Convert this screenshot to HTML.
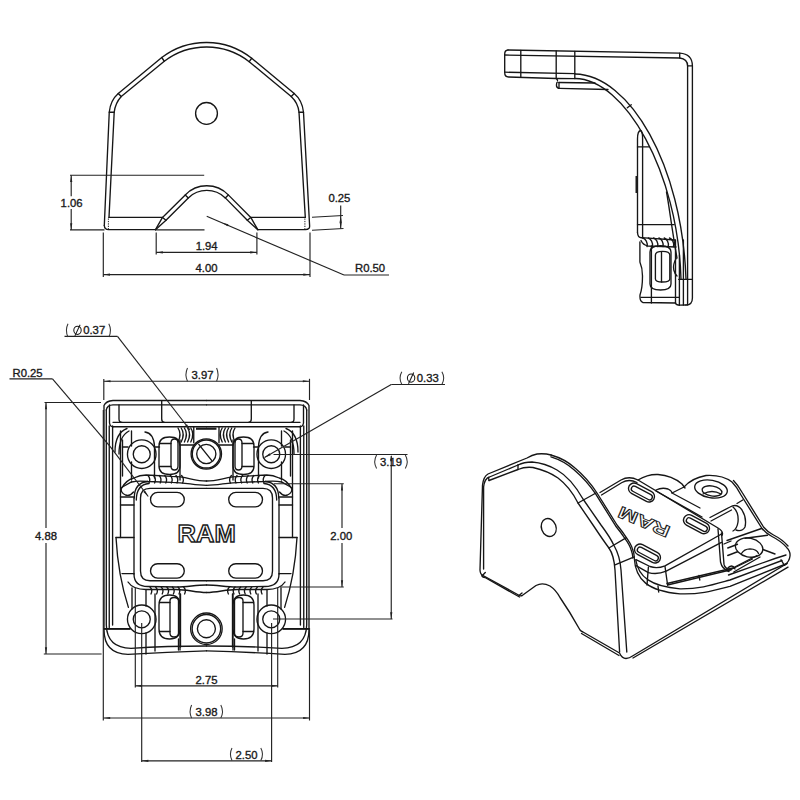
<!DOCTYPE html>
<html><head><meta charset="utf-8"><style>
html,body{margin:0;padding:0;background:#fff;}
svg{display:block;}
.p{fill:none;stroke:#161616;stroke-width:1.35;stroke-linejoin:round;stroke-linecap:round;}
.d{fill:none;stroke:#222;stroke-width:1.15;}
.t{fill:none;stroke:#1c1c1c;stroke-width:2.2;}
.a{fill:#222;stroke:none;}
.dt{fill:none;stroke:#222;stroke-width:1;stroke-dasharray:1.3,1.1;}
text{font-family:"Liberation Sans",sans-serif;fill:#1a1a1a;stroke:#1a1a1a;stroke-width:0.35;}
.pr{fill:none;stroke:#333;stroke-width:1.05;}
.dm{fill:none;stroke:#1a1a1a;stroke-width:1.05;}
text.ram{font-weight:bold;fill:#fff;stroke:#1c1c1c;stroke-width:1.5;}
</style></head>
<body><svg width="800" height="800" viewBox="0 0 800 800">
<rect width="800" height="800" fill="#fff"/>
<path class="p" d="M104.3,225.5 L109.25,112.25 Q110.3,100.5 118.25,93.5 L161.75,57.5 A73.4,73.4 0 0 1 251.75,58.25 L294.2,93.5 Q302.4,100.5 303.5,112.25 L309.6,225.5 Q310,229.6 305.5,229.6 L258.3,229.6"/>
<path class="p" d="M104.3,225.5 Q104.5,229.6 108.5,229.6 L155.5,229.6"/>
<path class="p" d="M109,217.4 L114.2,112.25 Q115.3,103 121.25,96.5 L164.3,61.25 A69.5,69.5 0 0 1 249.2,61.7 L291.2,96.5 Q298.1,103 299,112.25 L305.3,217.4"/>
<line class="p" x1="109" y1="217.4" x2="162.5" y2="217.4"/>
<line class="p" x1="250.8" y1="217.4" x2="305.3" y2="217.4"/>
<path class="dt" d="M108.4,218.5 L108.4,229"/>
<path class="dt" d="M304.9,218.5 L304.9,229"/>
<line class="p" x1="161.75" y1="57.5" x2="164.3" y2="61.25"/>
<line class="p" x1="118.25" y1="93.5" x2="121.25" y2="96.5"/>
<line class="p" x1="109.25" y1="112.25" x2="114.2" y2="112.25"/>
<line class="p" x1="251.75" y1="58.25" x2="249.2" y2="61.7"/>
<line class="p" x1="294.2" y1="93.5" x2="291.2" y2="96.5"/>
<line class="p" x1="303.5" y1="112.25" x2="299" y2="112.25"/>
<path class="p" d="M155.5,229.7 L162.5,217.45 L185.25,194.9 A30,30 0 0 1 228.3,194.9 L250.8,217.45 L257.8,229.7"/>
<path class="p" d="M155.5,229.7 L166,220.25 L188.3,197.9 A26.6,26.6 0 0 1 225.3,197.9 L247.3,220.25 L257.8,229.7"/>
<line class="p" x1="162.5" y1="217.45" x2="166" y2="220.25"/>
<line class="p" x1="185.25" y1="194.9" x2="188.3" y2="197.9"/>
<line class="p" x1="250.8" y1="217.45" x2="247.3" y2="220.25"/>
<line class="p" x1="228.3" y1="194.9" x2="225.3" y2="197.9"/>
<circle class="p" cx="206.5" cy="113.4" r="10.9"/>
<line class="d" x1="70" y1="175.2" x2="204.2" y2="175.2"/>
<line class="d" x1="70" y1="229.9" x2="104.5" y2="229.9"/>
<line class="d" x1="155.5" y1="229.9" x2="204.5" y2="229.9"/>
<line class="d" x1="71.2" y1="175.2" x2="71.2" y2="196.3"/>
<line class="d" x1="71.2" y1="209" x2="71.2" y2="229.9"/>
<polygon class="a" points="71.20,175.40 72.30,181.90 70.10,181.90"/>
<polygon class="a" points="71.20,229.70 70.10,223.20 72.30,223.20"/>
<text x="71.6" y="207.1" text-anchor="middle" font-size="11.3" >1.06</text>
<line class="d" x1="312" y1="217.3" x2="343" y2="215.5"/>
<line class="d" x1="312" y1="230.2" x2="343.5" y2="228.5"/>
<line class="d" x1="340.7" y1="205.5" x2="340.7" y2="228.6"/>
<polygon class="a" points="340.70,215.70 341.80,222.20 339.60,222.20"/>
<polygon class="a" points="340.70,228.40 339.60,221.90 341.80,221.90"/>
<text x="339.4" y="202.4" text-anchor="middle" font-size="11.3" >0.25</text>
<line class="d" x1="156.2" y1="232.5" x2="156.2" y2="254.5"/>
<line class="d" x1="256.9" y1="232.5" x2="256.9" y2="254.5"/>
<line class="d" x1="156.2" y1="252.4" x2="256.9" y2="252.4"/>
<polygon class="a" points="156.40,252.40 162.90,251.30 162.90,253.50"/>
<polygon class="a" points="256.70,252.40 250.20,253.50 250.20,251.30"/>
<text x="206.65" y="250.1" text-anchor="middle" font-size="11.3" >1.94</text>
<line class="d" x1="103.3" y1="232.5" x2="103.3" y2="277"/>
<line class="d" x1="310" y1="232.5" x2="310" y2="277"/>
<line class="d" x1="103.3" y1="274.6" x2="310" y2="274.6"/>
<polygon class="a" points="103.50,274.60 110.00,273.50 110.00,275.70"/>
<polygon class="a" points="309.80,274.60 303.30,275.70 303.30,273.50"/>
<text x="206.5" y="272" text-anchor="middle" font-size="11.3" >4.00</text>
<line class="d" x1="206.7" y1="216.3" x2="344" y2="275"/>
<line class="d" x1="344" y1="275" x2="389" y2="275"/>
<polygon class="a" points="222.00,222.70 228.41,224.25 227.54,226.27"/>
<text x="355" y="272.2" text-anchor="start" font-size="11.3" >R0.50</text>
<path class="p" d="M508,50 Q504.7,50.2 504.7,54 L504.7,72.5 Q504.7,77 508.5,77 L556,78.5 Q557.5,79 557.5,80.5"/>
<path class="p" d="M508,50 L679.7,53.2 Q692.4,54 692.4,66 L692.4,298 Q692.4,305 686,305"/>
<path class="p" d="M504.7,55 L679.7,58 Q687.6,59 687.6,66"/>
<line class="p" x1="504.7" y1="72.2" x2="575" y2="73.6"/>
<line class="p" x1="556.2" y1="78.5" x2="575" y2="78.6"/>
<line class="p" x1="520.8" y1="50.3" x2="520.8" y2="76.8"/>
<line class="p" x1="556.2" y1="51" x2="556.2" y2="78.3"/>
<line class="p" x1="574.8" y1="51.3" x2="574.8" y2="78.5"/>
<line class="p" x1="679.7" y1="53.2" x2="679.7" y2="58"/>
<line class="p" x1="687.6" y1="65.8" x2="692.4" y2="65.8"/>
<line class="p" x1="687.6" y1="66" x2="687.6" y2="305"/>
<path class="p" d="M559,82.5 L595,83 M557.5,82 Q556.5,82.5 556.5,84.5 L556.5,86 Q557,88.3 559.5,88.3 L608,89.5"/>
<line class="p" x1="559" y1="82.3" x2="559" y2="88.3"/>
<path class="p" d="M575,74 C630,75 682,165 686,279"/>
<path class="p" d="M575,78.5 C625,79 678,172 681,279"/>
<path class="p" d="M666.5,192 C669,205 672,230 677,258"/>
<line class="p" x1="627.3" y1="107.8" x2="631.3" y2="104.8"/>
<path class="p" d="M637.5,232.5 L637.5,139 Q637.5,131 640.6,130.5 Q642.6,131 642.6,139 L642.6,238"/>
<line class="p" x1="637.5" y1="146.9" x2="649.4" y2="146.9"/>
<line class="p" x1="637.5" y1="224.6" x2="674.2" y2="224.6"/>
<path class="p" d="M637.5,232.5 Q637.8,237.7 641.4,237.7 L675,240"/>
<path class="t" d="M636.6,176 L636.6,193"/>
<path class="p" d="M643.0,238 C645.5,239 648.0,242.5 647.0,246.5"/>
<path class="p" d="M648.3,238 C650.8,239 653.3,242.5 652.3,246.5"/>
<path class="p" d="M653.6,238 C656.1,239 658.6,242.5 657.6,246.5"/>
<path class="p" d="M658.9,238 C661.4,239 663.9,242.5 662.9,246.5"/>
<path class="p" d="M664.2,238 C666.7,239 669.2,242.5 668.2,246.5"/>
<path class="p" d="M669.5,238 C672.0,239 674.5,242.5 673.5,246.5"/>
<path class="p" d="M641,240.5 Q643,245 648,246 L676,247"/>
<path class="p" d="M639.9,242 L639.9,262 Q642.5,268 642.5,276 Q642.5,288 640,295 Q639.5,301.5 643,302.5 L675.5,303"/>
<line class="p" x1="641" y1="297.3" x2="679" y2="297.3"/>
<line class="p" x1="651.4" y1="246" x2="651.4" y2="303"/>
<path class="p" d="M650,252 Q650,245.7 660.5,245.7 Q671,245.7 671,252 L671,284 Q671,290 660.5,290 Q650,290 650,284 Z"/>
<path class="p" d="M655.4,255 Q655.4,251.4 662.5,251.4 Q669.8,251.4 669.8,255 L669.8,279 Q669.8,282 662.5,282 Q655.4,282 655.4,279 Z"/>
<line class="p" x1="661.5" y1="252" x2="661.5" y2="282"/>
<line class="p" x1="675.5" y1="240" x2="675.5" y2="303"/>
<line class="p" x1="679.4" y1="255" x2="679.4" y2="305"/>
<line class="p" x1="683.4" y1="240" x2="683.4" y2="305"/>
<line class="p" x1="678.75" y1="279.4" x2="692.4" y2="279.4"/>
<path class="p" d="M676.3,258 Q672.5,265 673.8,270 Q674.8,274 677,276"/>
<path class="p" d="M675.5,303 Q676,305.2 680,305.2 L686,305"/>
<path class="p" d="M206.5,400.5 L113,400.5 Q106,401 104,405.5 L104,629.5 Q104,654 128,654.3 Q167,652 206.5,650.8"/>
<path class="p" d="M 206.5 400.5 L 300 400.5 Q 307 401 309 405.5 L 309 629.5 Q 309 654 285 654.3 Q 246 652 206.5 650.8"/>
<path class="p" d="M206.5,404.8 L113,404.8 Q107,405 106.3,410"/>
<path class="p" d="M 206.5 404.8 L 300 404.8 Q 306 405 306.7 410"/>
<path class="p" d="M109.25,426 L109.25,627.5"/>
<path class="p" d="M 303.75 426 L 303.75 627.5"/>
<path class="p" d="M112.6,426 L112.6,625"/>
<path class="p" d="M 300.4 426 L 300.4 625"/>
<path class="p" d="M206.5,422.3 L113,422.3"/>
<path class="p" d="M 206.5 422.3 L 300 422.3"/>
<path class="p" d="M206.5,426.7 L112.6,426.7"/>
<path class="p" d="M 206.5 426.7 L 300.4 426.7"/>
<path class="p" d="M119,405 L119,419 Q119,422.3 122,422.3"/>
<path class="p" d="M 294 405 L 294 419 Q 294 422.3 291 422.3"/>
<path class="p" d="M109.5,405 L109.5,423 Q110,426.7 113,426.7"/>
<path class="p" d="M 303.5 405 L 303.5 423 Q 303 426.7 300 426.7"/>
<path class="p" d="M161.7,401 L161.7,419 Q161.7,422.3 164.5,422.3"/>
<path class="p" d="M 251.3 401 L 251.3 419 Q 251.3 422.3 248.5 422.3"/>
<path class="p" d="M120.5,431 L120.5,537.5"/>
<path class="p" d="M 292.5 431 L 292.5 537.5"/>
<path class="p" d="M116,537.5 Q118,575 128.4,607.4"/>
<path class="p" d="M 297 537.5 Q 295 575 284.6 607.4"/>
<path class="p" d="M116,537.5 L134,537.5"/>
<path class="p" d="M 297 537.5 L 279 537.5"/>
<path class="p" d="M120.5,497 L134,497"/>
<path class="p" d="M 292.5 497 L 279 497"/>
<path class="p" d="M120.5,505 L134,505"/>
<path class="p" d="M 292.5 505 L 279 505"/>
<path class="p" d="M122,573.6 L134,573.6"/>
<path class="p" d="M 291 573.6 L 279 573.6"/>
<path class="p" d="M104,628.75 L130,628.75"/>
<path class="p" d="M 309 628.75 L 283 628.75"/>
<path class="p" d="M106.3,410 L106.3,625 Q107,648 131,648.3 Q167,646 206.5,646"/>
<path class="p" d="M 306.7 410 L 306.7 625 Q 306 648 282 648.3 Q 246 646 206.5 646"/>
<circle class="p" cx="141.75" cy="454.2" r="14.3"/>
<circle class="p" cx="271.25" cy="454.2" r="14.3"/>
<circle class="p" cx="141.75" cy="454.2" r="8.5"/>
<circle class="p" cx="271.25" cy="454.2" r="8.5"/>
<circle class="p" cx="141.75" cy="619.3" r="14.3"/>
<circle class="p" cx="271.25" cy="619.3" r="14.3"/>
<circle class="p" cx="141.75" cy="619.3" r="8.5"/>
<circle class="p" cx="271.25" cy="619.3" r="8.5"/>
<circle class="p" cx="206.3" cy="454" r="15.2"/>
<circle class="p" cx="206.3" cy="454" r="14"/>
<circle class="p" cx="206.3" cy="454" r="9.6"/>
<line class="p" x1="198.8" y1="444.4" x2="211.6" y2="460.4"/>
<circle class="p" cx="206.4" cy="628.75" r="15.75"/>
<circle class="p" cx="206.4" cy="628.75" r="14.25"/>
<circle class="p" cx="206.4" cy="628.75" r="9"/>
<path class="p" d="M115,452 Q115,433 127,428.5"/>
<path class="p" d="M 298 452 Q 298 433 286 428.5"/>
<path class="p" d="M119,454 Q119,436 129,431"/>
<path class="p" d="M 294 454 Q 294 436 284 431"/>
<path class="p" d="M122.5,440 L122.5,476"/>
<path class="p" d="M 290.5 440 L 290.5 476"/>
<path class="p" d="M131.5,431 L131.5,446"/>
<path class="p" d="M 281.5 431 L 281.5 446"/>
<path class="p" d="M131.5,462 L131.5,480"/>
<path class="p" d="M 281.5 462 L 281.5 480"/>
<path class="p" d="M145,432 Q153.5,433 154.5,446 L154.5,478"/>
<path class="p" d="M 268 432 Q 259.5 433 258.5 446 L 258.5 478"/>
<path class="p" d="M122.5,447 L128,447"/>
<path class="p" d="M 290.5 447 L 285 447"/>
<path class="p" d="M155,447 L159.5,447"/>
<path class="p" d="M 258 447 L 253.5 447"/>
<path class="p" d="M132,588 L132,609"/>
<path class="p" d="M 281 588 L 281 609"/>
<path class="p" d="M146,590 L146,606"/>
<path class="p" d="M 267 590 L 267 606"/>
<path class="p" d="M146,633 L146,654"/>
<path class="p" d="M 267 633 L 267 654"/>
<path class="p" d="M155,594 L155,651"/>
<path class="p" d="M 258 594 L 258 651"/>
<path class="p" d="M104,629 L130,629"/>
<path class="p" d="M 309 629 L 283 629"/>
<path class="p" d="M159,446 Q159,437 169.5,437 Q180,437 180,446 L180,466 Q180,474.5 169.5,474.5 Q159,474.5 159,466 Z"/>
<path class="p" d="M 254 446 Q 254 437 243.5 437 Q 233 437 233 446 L 233 466 Q 233 474.5 243.5 474.5 Q 254 474.5 254 466 Z"/>
<path class="p" d="M171,443 Q171,439 174.5,439 Q178,439 178,443 L178,466 Q178,470 174.5,470 Q171,470 171,466 Z"/>
<path class="p" d="M 242 443 Q 242 439 238.5 439 Q 235 439 235 443 L 235 466 Q 235 470 238.5 470 Q 242 470 242 466 Z"/>
<path class="p" d="M159.5,443.5 L171,443.5"/>
<path class="p" d="M 253.5 443.5 L 242 443.5"/>
<path class="p" d="M159.5,466.5 L171,466.5"/>
<path class="p" d="M 253.5 466.5 L 242 466.5"/>
<path class="p" d="M180,440 L180,480"/>
<path class="p" d="M 233 440 L 233 480"/>
<path class="p" d="M159,605 Q159,595 169.5,595 Q180,595 180,605 L180,629 Q180,639 169.5,639 Q159,639 159,629 Z"/>
<path class="p" d="M 254 605 Q 254 595 243.5 595 Q 233 595 233 605 L 233 629 Q 233 639 243.5 639 Q 254 639 254 629 Z"/>
<path class="p" d="M170,601 Q170,597.5 174,597.5 Q178.5,597.5 178.5,601 L178.5,633 Q178.5,637 174,637 Q170,637 170,633 Z"/>
<path class="p" d="M 243 601 Q 243 597.5 239 597.5 Q 234.5 597.5 234.5 601 L 234.5 633 Q 234.5 637 239 637 Q 243 637 243 633 Z"/>
<path class="p" d="M159.5,602.5 L170,602.5"/>
<path class="p" d="M 253.5 602.5 L 243 602.5"/>
<path class="p" d="M159.5,631.5 L170,631.5"/>
<path class="p" d="M 253.5 631.5 L 243 631.5"/>
<path class="p" d="M178.5,639 L178.5,650"/>
<path class="p" d="M 234.5 639 L 234.5 650"/>
<path class="p" d="M180.5,594 L180.5,647"/>
<path class="p" d="M 232.5 594 L 232.5 647"/>
<line class="p" x1="193.75" y1="427" x2="193.75" y2="442.75"/>
<line class="p" x1="219" y1="427" x2="219" y2="442.75"/>
<path class="t" d="M196,428.7 L216.5,428.7"/>
<path class="p" d="M180,445 L193.75,445"/>
<path class="p" d="M 233 445 L 219.25 445"/>
<path class="p" d="M178.0,428 Q182.0,434 178.0,442"/>
<path class="p" d="M 235 428 Q 231 434 235 442"/>
<path class="p" d="M181.2,428 Q185.2,434 181.2,442"/>
<path class="p" d="M 231.8 428 Q 227.8 434 231.8 442"/>
<path class="p" d="M184.4,428 Q188.4,434 184.4,442"/>
<path class="p" d="M 228.6 428 Q 224.6 434 228.6 442"/>
<path class="p" d="M187.6,428 Q191.6,434 187.6,442"/>
<path class="p" d="M 225.4 428 Q 221.4 434 225.4 442"/>
<path class="p" d="M190.8,428 Q194.8,434 190.8,442"/>
<path class="p" d="M 222.2 428 Q 218.2 434 222.2 442"/>
<path class="p" d="M121.25,488.75 Q126,480 133.75,478 Q140,475 146.25,475 L172,476.4 C186,476.4 194,481 206.5,481"/>
<path class="p" d="M 291.75 488.75 Q 287 480 279.25 478 Q 273 475 266.75 475 L 241 476.4 C 227 476.4 219 481 206.5 481"/>
<path class="p" d="M131.5,482 Q138,480.5 148,481.5 L172,482.3 C186,482.3 194,485.3 206.5,485.3"/>
<path class="p" d="M 281.5 482 Q 275 480.5 265 481.5 L 241 482.3 C 227 482.3 219 485.3 206.5 485.3"/>
<path class="p" d="M148.0,475.5 Q151.0,479 149.0,483"/>
<path class="p" d="M 265 475.5 Q 262 479 264 483"/>
<path class="p" d="M153.6,475.5 Q156.6,479 154.6,483"/>
<path class="p" d="M 259.4 475.5 Q 256.4 479 258.4 483"/>
<path class="p" d="M159.2,475.5 Q162.2,479 160.2,483"/>
<path class="p" d="M 253.8 475.5 Q 250.8 479 252.8 483"/>
<path class="p" d="M164.8,475.5 Q167.8,479 165.8,483"/>
<path class="p" d="M 248.2 475.5 Q 245.2 479 247.2 483"/>
<path class="p" d="M170.4,475.5 Q173.4,479 171.4,483"/>
<path class="p" d="M 242.6 475.5 Q 239.6 479 241.6 483"/>
<path class="p" d="M176.0,475.5 Q179.0,479 177.0,483"/>
<path class="p" d="M 237 475.5 Q 234 479 236 483"/>
<path class="p" d="M181.6,475.5 Q184.6,479 182.6,483"/>
<path class="p" d="M 231.4 475.5 Q 228.4 479 230.4 483"/>
<path class="p" d="M128,582 Q133,589.5 146,589.5 L176,589.5 C188,589.5 195,592.5 206.5,592.5"/>
<path class="p" d="M 285 582 Q 280 589.5 267 589.5 L 237 589.5 C 225 589.5 218 592.5 206.5 592.5"/>
<path class="p" d="M134,574 Q134,586.5 148,586.5 L176,587 C188,587 195,585 206.5,585"/>
<path class="p" d="M 279 574 Q 279 586.5 265 586.5 L 237 587 C 225 587 218 585 206.5 585"/>
<path class="p" d="M150.0,587 Q153.0,590 151.0,594"/>
<path class="p" d="M 263 587 Q 260 590 262 594"/>
<path class="p" d="M155.6,587 Q158.6,590 156.6,594"/>
<path class="p" d="M 257.4 587 Q 254.4 590 256.4 594"/>
<path class="p" d="M161.2,587 Q164.2,590 162.2,594"/>
<path class="p" d="M 251.8 587 Q 248.8 590 250.8 594"/>
<path class="p" d="M166.8,587 Q169.8,590 167.8,594"/>
<path class="p" d="M 246.2 587 Q 243.2 590 245.2 594"/>
<path class="p" d="M172.4,587 Q175.4,590 173.4,594"/>
<path class="p" d="M 240.6 587 Q 237.6 590 239.6 594"/>
<path class="p" d="M178.0,587 Q181.0,590 179.0,594"/>
<path class="p" d="M 235 587 Q 232 590 234 594"/>
<path class="p" d="M183.6,587 Q186.6,590 184.6,594"/>
<path class="p" d="M 229.4 587 Q 226.4 590 228.4 594"/>
<line class="p" x1="180" y1="594" x2="180" y2="650"/>
<line class="p" x1="233" y1="594" x2="233" y2="650"/>
<path class="p" d="M134,498 L134,574"/>
<path class="p" d="M 279 498 L 279 574"/>
<path class="p" d="M134.3,498 Q134.3,482.5 148,481.5"/>
<path class="p" d="M 278.7 498 Q 278.7 482.5 265 481.5"/>
<path class="p" d="M136.3,500 Q136.5,484.5 149,483.5"/>
<path class="p" d="M 276.7 500 Q 276.5 484.5 264 483.5"/>
<path class="p" d="M206.5,488.3 L150,488.3 Q140.5,488.3 140.5,498 L140.5,571 Q140.5,580.7 150,580.7 L206.5,580.7"/>
<path class="p" d="M 206.5 488.3 L 263 488.3 Q 272.5 488.3 272.5 498 L 272.5 571 Q 272.5 580.7 263 580.7 L 206.5 580.7"/>
<path class="p" d="M157.7,492.4 L177.10000000000002,492.4 A7.2,7.2 0 0 1 177.10000000000002,506.79999999999995 L157.7,506.79999999999995 A7.2,7.2 0 0 1 157.7,492.4 Z"/>
<path class="p" d="M 255.3 492.4 L 235.9 492.4 A 7.2 7.2 0 0 0 235.9 506.8 L 255.3 506.8 A 7.2 7.2 0 0 0 255.3 492.4 Z"/>
<path class="p" d="M157.7,563.7 L177.10000000000002,563.7 A7.2,7.2 0 0 1 177.10000000000002,578.1 L157.7,578.1 A7.2,7.2 0 0 1 157.7,563.7 Z"/>
<path class="p" d="M 255.3 563.7 L 235.9 563.7 A 7.2 7.2 0 0 0 235.9 578.1 L 255.3 578.1 A 7.2 7.2 0 0 0 255.3 563.7 Z"/>
<path class="p" d="M133.5,492 Q130,496.5 125.5,495 Q120,492.5 121.5,487.5 L131.5,481.8"/>
<path class="p" d="M 279.5 492 Q 283 496.5 287.5 495 Q 293 492.5 291.5 487.5 L 281.5 481.8"/>
<text x="206.6" y="542.3" text-anchor="middle" font-size="24" class="ram" textLength="58" lengthAdjust="spacingAndGlyphs" style="stroke-width:1.35">RAM</text>
<line class="d" x1="64.5" y1="336.3" x2="117.5" y2="336.3"/>
<line class="d" x1="117.5" y1="336.3" x2="190" y2="430"/>
<polygon class="a" points="190.00,430.00 185.22,425.46 186.98,424.14"/>
<path class="pr" d="M68,323.8 Q64.8,330.4 68,337"/>
<ellipse class="dm" cx="77.5" cy="330.3" rx="3.7" ry="4.1"/>
<line class="dm" x1="74.9" y1="335.90000000000003" x2="80.1" y2="324.7"/>
<text x="94.2" y="334.3" text-anchor="middle" font-size="11.3" >0.37</text>
<path class="pr" d="M108.8,323.8 Q112.2,330.4 108.8,337"/>
<line class="d" x1="9.5" y1="378.8" x2="52.5" y2="378.8"/>
<line class="d" x1="52.5" y1="378.8" x2="110" y2="446.3"/>
<line class="d" x1="110" y1="446.3" x2="148.25" y2="496.5"/>
<polygon class="a" points="148.25,496.50 143.39,492.04 145.13,490.69"/>
<text x="12.5" y="377" text-anchor="start" font-size="11.3" >R0.25</text>
<line class="d" x1="103.8" y1="379" x2="103.8" y2="400"/>
<line class="d" x1="309.5" y1="378.8" x2="309.5" y2="400"/>
<line class="d" x1="103.8" y1="381.25" x2="309.5" y2="381.25"/>
<polygon class="a" points="104.00,381.25 110.50,380.15 110.50,382.35"/>
<polygon class="a" points="309.30,381.25 302.80,382.35 302.80,380.15"/>
<path class="pr" d="M187.5,368 Q184.4,374.6 187.5,381.2"/>
<text x="202.5" y="378.8" text-anchor="middle" font-size="11.3" >3.97</text>
<path class="pr" d="M216.6,368 Q219.5,374.6 216.6,381.2"/>
<line class="d" x1="391.25" y1="384.5" x2="445" y2="384.5"/>
<line class="d" x1="391.25" y1="384.5" x2="264.5" y2="457.5"/>
<polygon class="a" points="264.50,457.50 269.57,453.28 270.67,455.19"/>
<path class="pr" d="M401.8,371.8 Q398.3,378.15 401.8,384.5"/>
<ellipse class="dm" cx="411.1" cy="378.1" rx="3.7" ry="4.1"/>
<line class="dm" x1="408.5" y1="383.70000000000005" x2="413.70000000000005" y2="372.5"/>
<text x="427.8" y="382.3" text-anchor="middle" font-size="11.3" >0.33</text>
<path class="pr" d="M441.9,371.8 Q445.5,378.15 441.9,384.5"/>
<line class="d" x1="44.5" y1="402.5" x2="101" y2="402.5"/>
<line class="d" x1="43.8" y1="654" x2="101.6" y2="654"/>
<line class="d" x1="46" y1="402.5" x2="46" y2="528"/>
<line class="d" x1="46" y1="543" x2="46" y2="654"/>
<polygon class="a" points="46.00,402.70 47.10,409.20 44.90,409.20"/>
<polygon class="a" points="46.00,653.80 44.90,647.30 47.10,647.30"/>
<text x="46" y="540.3" text-anchor="middle" font-size="11.3" >4.88</text>
<line class="d" x1="273.5" y1="454.5" x2="407.5" y2="454.5"/>
<line class="d" x1="273" y1="619" x2="392.5" y2="619"/>
<line class="d" x1="391.25" y1="456" x2="391.25" y2="619"/>
<polygon class="a" points="391.25,454.70 392.35,461.20 390.15,461.20"/>
<polygon class="a" points="391.25,618.80 390.15,612.30 392.35,612.30"/>
<path class="pr" d="M376.6,455 Q372.8,461.75 376.6,468.5"/>
<text x="391.05" y="465.6" text-anchor="middle" font-size="11.3" >3.19</text>
<path class="pr" d="M405.3,455 Q409.2,461.75 405.3,468.5"/>
<line class="d" x1="274" y1="483.75" x2="343.75" y2="483.75"/>
<line class="d" x1="280" y1="587" x2="343.75" y2="587"/>
<line class="d" x1="342" y1="484" x2="342" y2="528"/>
<line class="d" x1="342" y1="543" x2="342" y2="587"/>
<polygon class="a" points="342.00,483.95 343.10,490.45 340.90,490.45"/>
<polygon class="a" points="342.00,586.80 340.90,580.30 343.10,580.30"/>
<text x="341.25" y="539.5" text-anchor="middle" font-size="11.3" >2.00</text>
<line class="d" x1="103.3" y1="410" x2="103.3" y2="720.5"/>
<line class="d" x1="309.5" y1="628" x2="309.5" y2="720.5"/>
<line class="d" x1="135.3" y1="588" x2="135.3" y2="687.5"/>
<line class="d" x1="277.7" y1="588" x2="277.7" y2="687.5"/>
<line class="d" x1="141.7" y1="623" x2="141.7" y2="762"/>
<line class="d" x1="271.6" y1="623" x2="271.6" y2="762"/>
<line class="d" x1="135.3" y1="685.8" x2="277.7" y2="685.8"/>
<polygon class="a" points="135.50,685.80 142.00,684.70 142.00,686.90"/>
<polygon class="a" points="277.50,685.80 271.00,686.90 271.00,684.70"/>
<text x="206.5" y="683.6" text-anchor="middle" font-size="11.3" >2.75</text>
<line class="d" x1="103.5" y1="718" x2="309.8" y2="718"/>
<polygon class="a" points="103.70,718.00 110.20,716.90 110.20,719.10"/>
<polygon class="a" points="309.60,718.00 303.10,719.10 303.10,716.90"/>
<path class="pr" d="M191.6,705 Q188.60000000000002,711.55 191.6,718.1"/>
<text x="206.55" y="715.7" text-anchor="middle" font-size="11.3" >3.98</text>
<path class="pr" d="M220.8,705 Q224.2,711.55 220.8,718.1"/>
<line class="d" x1="141.7" y1="760.8" x2="271.8" y2="760.8"/>
<polygon class="a" points="141.90,760.80 148.40,759.70 148.40,761.90"/>
<polygon class="a" points="271.60,760.80 265.10,761.90 265.10,759.70"/>
<path class="pr" d="M232,748.1 Q228.8,754.35 232,760.6"/>
<text x="246.55" y="758.8" text-anchor="middle" font-size="11.3" >2.50</text>
<path class="pr" d="M260.8,748.1 Q264.2,754.35 260.8,760.6"/>
<path class="p" d="M551,455 Q545,453.3 537,454 Q532,455 527,458 L488,474 Q483.5,476.5 482.5,485 L480,570 Q480.2,574.5 483,575.5 L518.5,595 Q520.5,596.5 522.5,595.3 L536,585.5 Q542.5,582 550,586 Q556,590 560,597.5 Q570,612 580,630 Q581,631.2 583,632 L619.5,653 Q622,658.5 626,658.5 Q629.5,658.3 632.5,656 L787,563.5"/>
<path class="p" d="M633,658 L788,567.2"/>
<path class="p" d="M483.6,569 L483.6,487 Q484.5,478.5 489.5,477 L518,465"/>
<path class="p" d="M482,575.5 Q482.5,577.5 485,577.5 L519.5,597"/>
<path class="p" d="M581.5,633.5 L619,655.5"/>
<path class="p" d="M551,455 Q565,459 575,468 Q588,479 597,493 L617,525 Q622,531 626.4,537.6 Q631,544 632.5,549 Q634.5,554 634.25,558 C635.5,580 648,591 680,593.8 C700,594.5 712,591 730,586.3 L787,563.5"/>
<path class="p" d="M551,456.8 Q564,460.8 574,469.7 Q587,480.8 595.8,494.2 L615.8,526.2 Q620.8,532.2 625.2,538.8 Q629.8,545 631.2,550 Q633,555 632.8,558"/>
<path class="p" d="M518,465 Q524,462 532,462 Q545,463 557,470 Q571,478 583,499 L601,525 Q610,537 614,545.5 Q620,556 621,570 L626.8,652"/>
<path class="p" d="M489,480.5 L518,469.5 Q525,466.5 533,467.5 Q548,471 558,478 Q570,487 578,503 L593,525 Q603,540 608.9,548 Q614,555 615,570 L619.6,652"/>
<line class="p" x1="518" y1="465" x2="518" y2="469.5"/>
<line class="p" x1="488.5" y1="477.5" x2="489" y2="480.5"/>
<line class="p" x1="615" y1="564.75" x2="634.25" y2="556.9"/>
<line class="p" x1="608.9" y1="548" x2="626.4" y2="537.6"/>
<line class="p" x1="482" y1="576" x2="485.3" y2="572.5"/>
<line class="p" x1="519" y1="595.5" x2="522" y2="593"/>
<ellipse class="p" cx="548.75" cy="527.5" rx="7.3" ry="9.2" transform="rotate(-20 548.75 527.5)"/>
<path class="p" d="M578,503 L596,493"/>
<path class="p" d="M600,492.5 L621,480 Q629,475.5 638,480 L718,528 Q724,531.5 722,535.5"/>
<path class="p" d="M601.5,495 L622,482.5 Q629,478.5 637,482.5"/>
<path class="p" d="M721.5,534 L665,565.8 Q657,569 650,566.5 L636,559.6"/>
<path class="p" d="M721.5,542.4 L666.2,571.2 Q657,575 648.4,572.6 L636,565.7"/>
<path class="p" d="M721.5,533 L724,564.4 Q725,569 731,570"/>
<path class="p" d="M718,529 L720.5,562 Q722,569 729,571.5"/>
<line class="p" x1="648.4" y1="567" x2="647" y2="585"/>
<line class="p" x1="665" y1="566.5" x2="667.6" y2="585"/>
<line class="p" x1="658" y1="586" x2="658.7" y2="592"/>
<path class="p" d="M667.5,585 L730,570 L752.5,559"/>
<path class="p" d="M635.8,560 C638.5,577 651,586.5 680,588.8 C700,589 712,585 730,580 L782,560.5"/>
<line class="p" x1="699" y1="575.4" x2="699.8" y2="580"/>
<path class="p" d="M667,583.5 L733,568"/>
<path class="p" d="M638,480 Q648,474 658,474.5 Q672,475.5 682,484 L685,488"/>
<path class="p" d="M672,493 L684,487"/>
<path class="p" d="M656,490 Q662,487 668,489 Q672,491 672,493 L700,508"/>
<path class="p" d="M656,491 L702,517"/>
<rect class="p" x="627.5" y="487.0" width="28" height="11" rx="5.5" transform="rotate(28 641.5 492.5)"/>
<rect class="p" x="630.5" y="490.0" width="23" height="5.5" rx="2.7" transform="rotate(28 641.5 492.5)"/>
<rect class="p" x="682.5" y="518.7" width="28" height="11" rx="5.5" transform="rotate(28 696.5 524.2)"/>
<rect class="p" x="685.5" y="521.7" width="23" height="5.5" rx="2.7" transform="rotate(28 696.5 524.2)"/>
<rect class="p" x="633.5" y="548.0" width="28" height="11" rx="5.5" transform="rotate(28 647.5 553.5)"/>
<rect class="p" x="636.5" y="551.0" width="23" height="5.5" rx="2.7" transform="rotate(28 647.5 553.5)"/>
<text x="0" y="0" text-anchor="middle" font-size="16.5" class="ram" style="stroke-width:0.9" transform="translate(644,522) rotate(-157) scale(1.45,1) translate(0,5.8)">RAM</text>
<path class="p" d="M684,487 Q692,478 706,475.5 Q722,474.5 732,482 Q737,487 741,495 L762,528.5 Q766,533.5 772,536.5 Q781,541 786.6,547.4 Q790.5,551 790,556 Q789.5,561 785,565"/>
<path class="p" d="M733.5,480.5 Q738,485 742.5,493 L763.5,527 Q767.5,532 773.5,535 Q782.5,539.5 788,546"/>
<line class="p" x1="781" y1="559.75" x2="784.4" y2="565.4"/>
<ellipse class="p" cx="711" cy="489" rx="16.5" ry="8.8" transform="rotate(10 711 489)"/>
<ellipse class="p" cx="712" cy="491" rx="10" ry="5" transform="rotate(10 712 491)"/>
<path class="p" d="M703,494 Q712,489 721,494"/>
<ellipse class="p" cx="749.1" cy="547.6" rx="13.9" ry="9.4" transform="rotate(12 749.1 547.6)"/>
<path class="p" d="M741.5,553.5 Q744,549 750,548.8 Q757,549 758.5,553.5"/>
<path class="p" d="M710,517.5 L730,507 Q737,503 742,510 Q747,518 745,527 Q742,532 736,530"/>
<path class="p" d="M711,521 L731.5,510"/>
<path class="p" d="M733,507 Q739,512 738,522 Q737,529 733,531"/>
<line class="p" x1="737" y1="503.5" x2="742.75" y2="500"/>
<line class="p" x1="727" y1="540.5" x2="761.5" y2="528.5"/>
<line class="p" x1="727.75" y1="548" x2="737.5" y2="544.25"/>
<line class="p" x1="727.75" y1="555.5" x2="737.5" y2="551.75"/>
<line class="p" x1="745" y1="538.25" x2="767.5" y2="535.25"/>
<line class="p" x1="763" y1="549.5" x2="775" y2="554"/>
<path class="p" d="M733.75,567.5 L757,555.5"/>
<path class="p" d="M733.75,572 L760,557"/>
<path class="p" d="M728.5,575 L775,558.5 L786,555"/>
<path class="p" d="M727,569 Q732,563 735,569"/>
<path class="p" d="M724,544 L731,541"/>
</svg></body></html>
